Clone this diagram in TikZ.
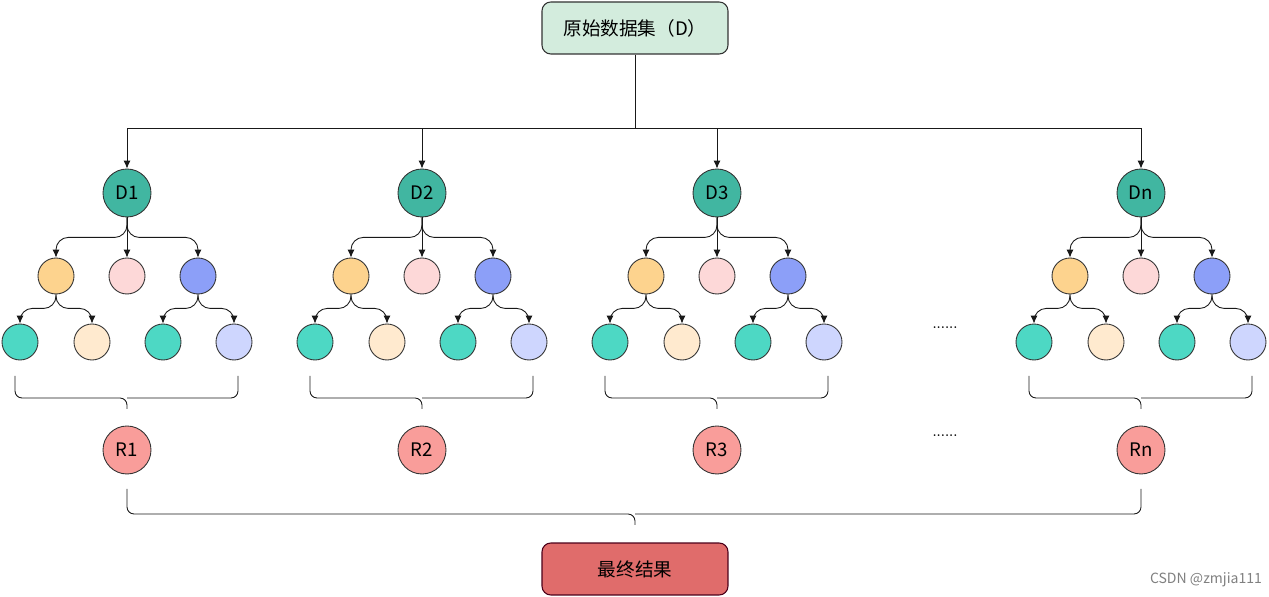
\documentclass[tikz,border=0pt]{standalone}
\usepackage{fontspec}
\newfontfamily\cjk{Noto Sans CJK SC}
\usetikzlibrary{arrows.meta}
\definecolor{datagreen}{HTML}{D3ECDD}
\definecolor{dteal}{HTML}{41B6A1}
\definecolor{korange}{HTML}{FDD38E}
\definecolor{kpink}{HTML}{FDD8D8}
\definecolor{kblue}{HTML}{8C9FF8}
\definecolor{lteal}{HTML}{4DD8C4}
\definecolor{lcream}{HTML}{FFEACF}
\definecolor{llav}{HTML}{CED6FE}
\definecolor{rsalmon}{HTML}{F99D9A}
\definecolor{finalred}{HTML}{E06C6B}
\tikzset{
  >={Latex[length=4.5pt,width=4pt]},
  every node/.style={font=\cjk\fontsize{10.6}{12}\selectfont},
  box/.style={rectangle,rounded corners=5pt,draw=black!80,line width=0.6pt,minimum width=3.72cm,minimum height=1.04cm},
  node/.style={circle,draw=black!80,line width=0.5pt,minimum size=0.72cm,inner sep=0},
  node d/.style={node,fill=dteal,minimum size=0.96cm},
  node r/.style={node,fill=rsalmon,minimum size=0.96cm},
  connect/.style={line width=0.5pt,black!90},
  connect arrow/.style={connect,->},
  curve arrow/.style={connect arrow,rounded corners=7pt},
  brace/.style={connect,rounded corners=4pt}
}
\begin{document}
\begin{tikzpicture}[x=0.02cm,y=-0.02cm]
    \useasboundingbox (0,0) rectangle (1269,597);

    % Top and bottom boxes
    \node[box,fill=datagreen] (data) at (635,28) {原始数据集（D）};
    \node[box,fill=finalred,draw=black!60!purple] (final) at (635,569) {最终结果};
    \coordinate (split) at (635,128);
    \draw[connect] (data) -- (split);

    % One tree per subset
    \foreach \i/\x/\t in {1/127/D1,2/422/D2,3/717/D3,n/1141/Dn} {
        \node[node d] (d\i) at (\x,193) {\t};
        \draw[connect arrow] (split) -| (d\i);

        \node[node,fill=korange] (a\i) at (\x-71,276) {};
        \node[node,fill=kpink] (b\i) at (\x,276) {};
        \node[node,fill=kblue] (c\i) at (\x+71,276) {};
        \draw[curve arrow] (d\i.south) -- ++(0,20) -| (a\i.north);
        \draw[connect arrow] (d\i.south) -- (b\i.north);
        \draw[curve arrow] (d\i.south) -- ++(0,20) -| (c\i.north);

        \node[node,fill=lteal] (l\i1) at (\x-107,342) {};
        \node[node,fill=lcream] (l\i2) at (\x-35,342) {};
        \node[node,fill=lteal] (l\i3) at (\x+36,342) {};
        \node[node,fill=llav] (l\i4) at (\x+107,342) {};
        \draw[curve arrow] (a\i.south) -- ++(0,14) -| (l\i1.north);
        \draw[curve arrow] (a\i.south) -- ++(0,14) -| (l\i2.north);
        \draw[curve arrow] (c\i.south) -- ++(0,14) -| (l\i3.north);
        \draw[curve arrow] (c\i.south) -- ++(0,14) -| (l\i4.north);

        % Brace under the leaves
        \draw[brace] (\x-112,376) |- (\x,398) -- (\x,409);
        \draw[brace] (\x+111,376) |- (\x,398);

        \node[node r] (r\i) at (\x,450) {R\i};
    }

    % Bottom brace
    \draw[brace] (127,489) |- (635,514) -- (635,525);
    \draw[brace] (1141,489) |- (635,514);

    % Gap markers
    \node[font=\bfseries\fontsize{6}{6}\selectfont] (gap1) at (945,328) {......};
    \node[font=\bfseries\fontsize{6}{6}\selectfont] (gap2) at (945,436) {......};

    \node[font=\cjk\fontsize{8}{9}\selectfont,text=black!50] (mark) at (1206,580) {CSDN @zmjia111};
\end{tikzpicture}
\end{document}
